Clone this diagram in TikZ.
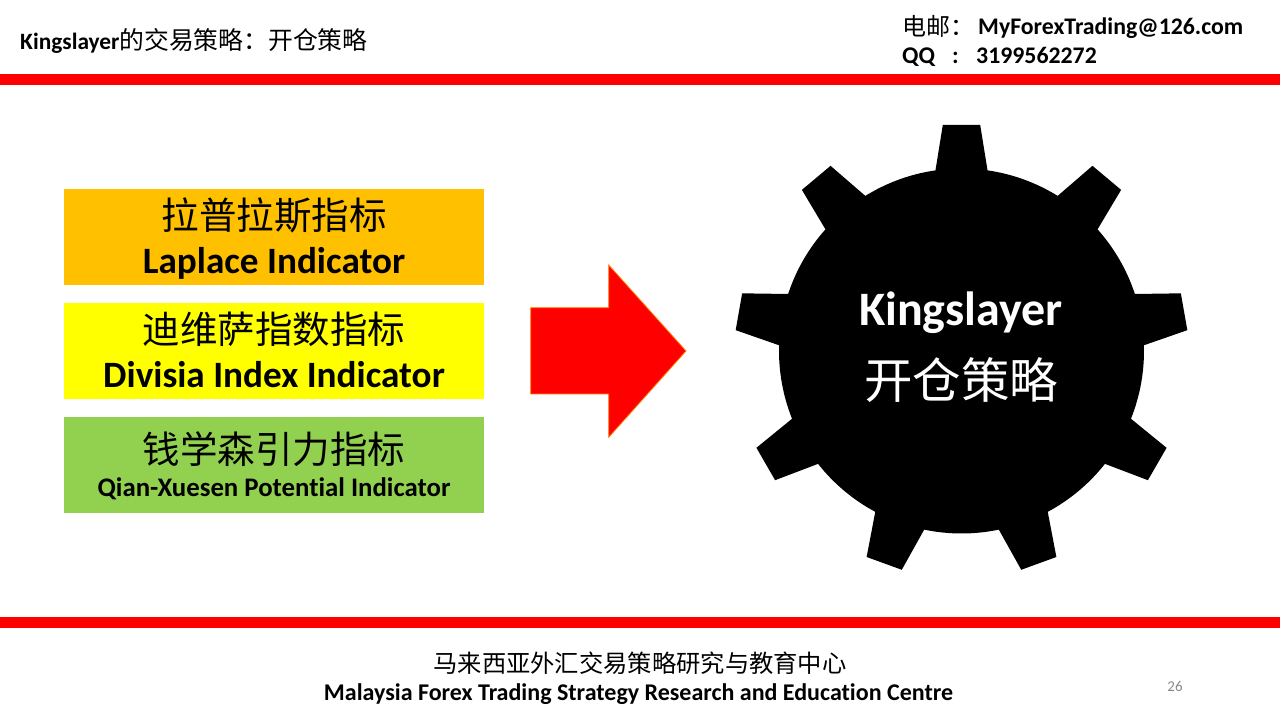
\documentclass[tikz,border=0pt]{standalone}
\usepackage{fontspec}
\setmainfont[Ligatures = NoCommon]{Carlito}
\newfontfamily\cjk{Noto Sans CJK SC}
\newcommand{\fsize}[1]{\fontsize{#1}{#1}\selectfont}

\definecolor{barred}{RGB}{255, 0, 0}
\definecolor{laplacefill}{RGB}{255, 192, 0}
\definecolor{divisiafill}{RGB}{255, 255, 0}
\definecolor{qianfill}{RGB}{146, 208, 80}
\definecolor{pagegrey}{RGB}{137, 137, 137}

\begin{document}

\begin{tikzpicture}[x = 1pt, y = 1pt,
	indicator/.style = {minimum width = 420 pt, minimum height = 96 pt, inner sep = 0 pt},
	plain/.style = {inner sep = 0 pt, anchor = base},
	left plain/.style = {inner sep = 0 pt, anchor = base west}]

	\useasboundingbox (0, 0) rectangle (1280, 720);

	% Red bars

	\fill [barred] (0, 635) rectangle (1280, 646);
	\fill [barred] (0, 92) rectangle (1280, 103);

	% Header

	\node [left plain] (title) at (20, 670) {\fsize{23.4}\textbf{Kingslayer}\cjk\fsize{24.8}的交易策略：开仓策略};
	\node [left plain] (mail) at (902.5, 684) {\cjk\fsize{24}电邮：};
	\node [left plain] (mailtext) at (978, 685) {\fsize{23.8}\textbf{MyForexTrading@126.com}};
	\node [left plain] (qq) at (902, 656) {\fsize{24}\textbf{QQ}};
	\node [left plain] (qqcolon) at (952, 656) {\fsize{24}\textbf{:}};
	\node [left plain] (qqtext) at (976, 656) {\fsize{23.8}\textbf{3199562272}};

	% Three indicators

	\node [indicator, fill = laplacefill] (laplace) at (274, 483) {};
	\node [indicator, fill = divisiafill] (divisia) at (274, 369) {};
	\node [indicator, fill = qianfill] (qian) at (274, 255) {};

	\node [plain] (laplacecn) at (274, 490) {\cjk\fsize{37.5}拉普拉斯指标};
	\node [plain] (laplaceen) at (274, 446) {\fsize{37.2}\textbf{Laplace Indicator}};
	\node [plain] (divisiacn) at (274, 376) {\cjk\fsize{37.5}迪维萨指数指标};
	\node [plain] (divisiaen) at (274, 332) {\fsize{37.2}\textbf{Divisia Index Indicator}};
	\node [plain] (qiancn) at (274, 256) {\cjk\fsize{37.5}钱学森引力指标};
	\node [plain] (qianen) at (274, 223) {\fsize{26.8}\textbf{Qian-Xuesen Potential Indicator}};

	% Block arrow

	\draw [draw = orange, fill = barred, line width = 0.8 pt] (530.7, 412.3) -- (608.7, 412.3) -- (608.7, 455) -- (686, 369) -- (608.7, 282.7) -- (608.7, 326) -- (530.7, 326) -- cycle;

	% Gear with nine teeth

	\coordinate (hub) at (961.5, 369);
	\fill [black, shift = {(hub)}] (98.2 : 182.5)
		\foreach \tooth in {90, 50, 10, -30, -70, -110, -150, -190, -230} {
			-- ({\tooth + 8.2} : 182.5) -- ({\tooth + 4.73} : 226.8) -- ({\tooth - 4.73} : 226.8) -- ({\tooth - 8.2} : 182.5)
			arc [start angle = \tooth - 8.2, end angle = \tooth - 31.8, radius = 182.5]
		} -- cycle;

	\node [plain, white] (gearen) at (961, 394.5) {\fsize{48}\textbf{Kingslayer}};
	\node [plain, white] (gearcn) at (961, 321) {\cjk\fsize{48.5}开仓策略};

	% Footer

	\node [plain] (footcn) at (640, 47) {\cjk\fsize{24.3}马来西亚外汇交易策略研究与教育中心};
	\node [plain] (footen) at (638.5, 19) {\fsize{24}\textbf{Malaysia Forex Trading Strategy Research and Education Centre}};
	\node [plain, pagegrey] (pagenum) at (1175, 28) {\fsize{15}26};

\end{tikzpicture}

\end{document}
